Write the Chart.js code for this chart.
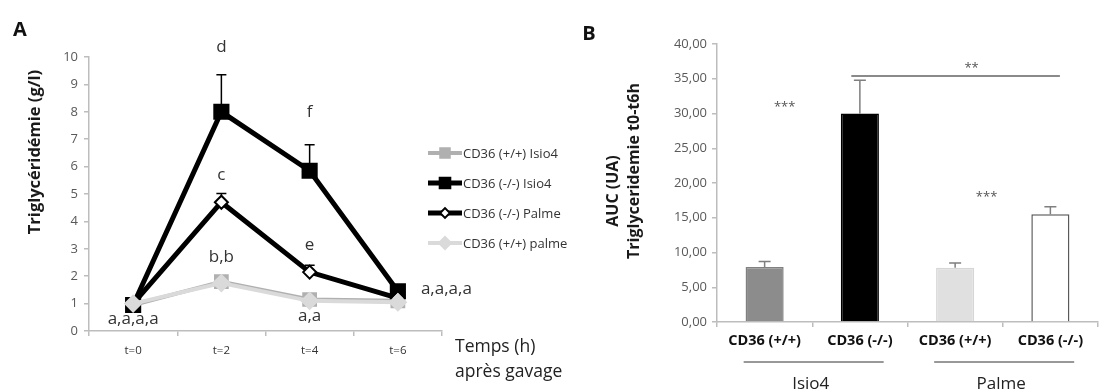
<!DOCTYPE html>
<html>
<head>
<meta charset="utf-8">
<script src="https://cdn.jsdelivr.net/npm/chart.js@4.4.1/dist/chart.umd.min.js"></script>
<style>
  body { margin: 0; background: #fff; }
  #wrap { position: relative; width: 1120px; height: 392px; overflow: hidden; font-family: "Open Sans", sans-serif; }
  canvas { position: absolute; top: 0; }
  #chartA { left: 0; }
  #chartB { left: 580px; }
  .txt { position: absolute; white-space: nowrap; color: #222; transform: translate(-50%, -50%); }
  .panel { font-weight: bold; font-size: 20px; color: #111; }
  .ytitle { font-weight: bold; transform: translate(-50%, -50%) rotate(-90deg); color: #1a1a1a; }
  .xnote { font-size: 17.5px; transform: translate(0, -50%); }
</style>
</head>
<body>
<div id="wrap">
  <canvas id="chartA" width="580" height="392"></canvas>
  <canvas id="chartB" width="540" height="392"></canvas>
  <div class="txt panel" style="left:20px;top:28px">A</div>
  <div class="txt panel" style="left:589px;top:32px">B</div>
  <div class="txt ytitle" style="left:33px;top:152px;font-size:16.5px">Triglycéridémie (g/l)</div>
  <div class="txt ytitle" style="left:612px;top:191px;font-size:16px">AUC (UA)</div>
  <div class="txt ytitle" style="left:633px;top:171px;font-size:16px">Triglyceridemie t0-t6h</div>
  <div class="txt xnote" style="left:455px;top:345px">Temps (h)</div>
  <div class="txt xnote" style="left:455px;top:370px">après gavage</div>
</div>
<script>
// panel A: triglyceridemia over time after gavage
const timeLabels = ["t=0", "t=2", "t=4", "t=6"];
const wtIsio4 = [0.95, 1.8, 1.15, 1.1];
const wtIsio4Err = [0.05, 0.12, 0.1, 0.05];
const koIsio4 = [0.95, 8.0, 5.85, 1.45];
const koIsio4Err = [0.1, 1.35, 0.95, 0.15];
const koPalme = [1.0, 4.7, 2.15, 1.2];
const koPalmeErr = [0.05, 0.32, 0.25, 0.05];
const wtPalme = [1.0, 1.75, 1.1, 1.05];
const wtPalmeErr = [0.05, 0.1, 0.08, 0.05];

// statistical letters (category index, value)
const letterText = ["d", "f", "c", "e", "b,b", "a,a", "a,a,a,a", "a,a,a,a"];
const letterAt = [1, 2, 1, 2, 1, 2, 0, 3.55];
const letterValue = [10.35, 7.98, 5.68, 3.13, 2.69, 0.54, 0.43, 1.52];

// panel B: AUC t0-t6h
const aucLabels = ["CD36 (+/+)", "CD36 (-/-)", "CD36 (+/+)", "CD36 (-/-)"];
const aucValues = [7.9, 30.0, 7.8, 15.5];
const aucErr = [0.8, 4.8, 0.7, 1.1];
const groupNames = ["Isio4", "Palme"];
const groupFrom = [0, 2];
const groupTo = [1, 3];
const starText = ["***", "***"];
const starAt = [0.21, 2.33];
const starValue = [30.9, 17.9];
const bracketFrom = 0.91, bracketTo = 3.1, bracketValue = 35.4, bracketText = "**";

const FONT = "'Open Sans', sans-serif";
const AXIS = "#bdbdbd";
const TICK = "#595959";

const errorBars = {
  id: "errorBars",
  beforeDatasetsDraw(chart) {
    const { ctx } = chart;
    const y = chart.scales.y;
    chart.data.datasets.forEach((ds, i) => {
      if (!ds.errors) return;
      const meta = chart.getDatasetMeta(i);
      const cap = ds.errorCap || 5;
      ctx.save();
      ctx.strokeStyle = ds.errorColor || "#000";
      ctx.lineWidth = ds.errorWidth || 1.5;
      meta.data.forEach((el, j) => {
        const e = ds.errors[j];
        if (!e) return;
        const top = y.getPixelForValue(ds.data[j] + e);
        ctx.beginPath();
        ctx.moveTo(el.x, el.y);
        ctx.lineTo(el.x, top);
        ctx.moveTo(el.x - cap, top);
        ctx.lineTo(el.x + cap, top);
        ctx.stroke();
      });
      ctx.restore();
    });
  }
};

const lettersA = {
  id: "lettersA",
  afterDraw(chart) {
    const { ctx, scales: { x, y } } = chart;
    ctx.save();
    ctx.font = "17px " + FONT;
    ctx.fillStyle = "#333";
    ctx.textAlign = "center";
    ctx.textBaseline = "middle";
    letterText.forEach((t, i) => {
      ctx.fillText(t, x.getPixelForValue(letterAt[i]), y.getPixelForValue(letterValue[i]));
    });
    ctx.restore();
  }
};

const sideLegend = {
  id: "sideLegend",
  afterDraw(chart) {
    const { ctx } = chart;
    chart.data.datasets.forEach((ds, i) => {
      const ly = 153 + i * 30;
      ctx.save();
      ctx.strokeStyle = ds.borderColor;
      ctx.lineWidth = ds.borderWidth;
      ctx.beginPath();
      ctx.moveTo(428, ly);
      ctx.lineTo(462, ly);
      ctx.stroke();
      ctx.fillStyle = ds.pointBackgroundColor;
      ctx.strokeStyle = ds.pointBorderColor;
      ctx.lineWidth = ds.pointBorderWidth;
      Chart.helpers.drawPoint(ctx, { pointStyle: ds.pointStyle, radius: ds.pointRadius * 0.75, borderWidth: ds.pointBorderWidth, rotation: 0 }, 445, ly);
      ctx.font = "13px " + FONT;
      ctx.fillStyle = "#333";
      ctx.textBaseline = "middle";
      ctx.fillText(ds.label, 463, ly + 1);
      ctx.restore();
    });
  }
};

const notesB = {
  id: "notesB",
  afterDraw(chart) {
    const { ctx, chartArea, scales: { x, y } } = chart;
    ctx.save();
    ctx.fillStyle = "#555";
    ctx.font = "13px " + FONT;
    ctx.textAlign = "center";
    ctx.textBaseline = "middle";
    starText.forEach((t, i) => ctx.fillText(t, x.getPixelForValue(starAt[i]), y.getPixelForValue(starValue[i])));
    // significance bracket
    const by = y.getPixelForValue(bracketValue);
    ctx.strokeStyle = "#8a8a8a";
    ctx.lineWidth = 2;
    ctx.beginPath();
    ctx.moveTo(x.getPixelForValue(bracketFrom), by);
    ctx.lineTo(x.getPixelForValue(bracketTo), by);
    ctx.stroke();
    ctx.fillText(bracketText, (x.getPixelForValue(bracketFrom) + x.getPixelForValue(bracketTo)) / 2 + 16, by - 8);
    // group underlines and names
    const gy = chartArea.bottom + 40;
    ctx.strokeStyle = "#333";
    ctx.lineWidth = 1;
    ctx.fillStyle = "#222";
    ctx.font = "17px " + FONT;
    groupNames.forEach((g, i) => {
      const a = x.getPixelForValue(groupFrom[i] - 0.22);
      const b = x.getPixelForValue(groupTo[i] + 0.25);
      ctx.beginPath();
      ctx.moveTo(a, gy);
      ctx.lineTo(b, gy);
      ctx.stroke();
      ctx.fillText(g, (a + b) / 2 - 3, gy + 22);
    });
    ctx.restore();
  }
};

function lineSet(label, data, errors, color, point, fill, radius, width, errColor) {
  return {
    label, data, errors,
    borderColor: color,
    borderWidth: width,
    pointStyle: point,
    pointRadius: radius,
    pointBackgroundColor: fill,
    pointBorderColor: color,
    pointBorderWidth: 2,
    errorColor: errColor,
    errorCap: 5,
    tension: 0,
  };
}

const datasetsA = [
  Object.assign(lineSet("CD36 (+/+) Isio4", wtIsio4, wtIsio4Err, "#b0b0b0", "rect", "#b0b0b0", 9, 4, "#b0b0b0"), { order: 4 }),
  Object.assign(lineSet("CD36 (-/-) Isio4", koIsio4, koIsio4Err, "#000", "rect", "#000", 10, 5, "#000"), { order: 3 }),
  Object.assign(lineSet("CD36 (-/-) Palme", koPalme, koPalmeErr, "#000", "rectRot", "#fff", 6.5, 5, "#000"), { order: 2 }),
  Object.assign(lineSet("CD36 (+/+) palme", wtPalme, wtPalmeErr, "#dadada", "rectRot", "#dadada", 8, 4, "#cfcfcf"), { order: 1 }),
];

new Chart(document.getElementById("chartA"), {
  type: "line",
  data: { labels: timeLabels, datasets: datasetsA },
  options: {
    responsive: false,
    animation: false,
    layout: { padding: { top: 57, right: 138, left: 0, bottom: 0 } },
    plugins: { legend: { display: false }, tooltip: { enabled: false } },
    scales: {
      x: {
        offset: true,
        grid: { offset: true, drawOnChartArea: false, tickLength: 5, color: AXIS, lineWidth: 1.5 },
        border: { color: AXIS, width: 1.5 },
        ticks: { color: "#333", font: { family: FONT, size: 11.5 }, padding: 8 },
        afterFit: (s) => { s.height = 61; },
      },
      y: {
        min: 0, max: 10,
        grid: { drawOnChartArea: false, tickLength: 5, color: AXIS, lineWidth: 1.5 },
        border: { color: AXIS, width: 1.5 },
        ticks: { stepSize: 1, color: TICK, font: { family: FONT, size: 13 }, padding: 6 },
        afterFit: (s) => { s.width = 89; },
      },
    },
  },
  plugins: [errorBars, lettersA, sideLegend],
});

new Chart(document.getElementById("chartB"), {
  type: "bar",
  data: {
    labels: aucLabels,
    datasets: [{
      data: aucValues,
      errors: aucErr,
      errorColor: "#7f7f7f",
      errorCap: 6,
      errorWidth: 1.5,
      backgroundColor: ["#8c8c8c", "#000000", "#e0e0e0", "#ffffff"],
      borderColor: ["#808080", "#000000", "#d6d6d6", "#595959"],
      borderWidth: 1.5,
      barPercentage: 0.4,
      categoryPercentage: 1,
    }],
  },
  options: {
    responsive: false,
    animation: false,
    layout: { padding: { top: 44, right: 22, left: 0, bottom: 0 } },
    plugins: { legend: { display: false }, tooltip: { enabled: false } },
    scales: {
      x: {
        grid: { offset: true, drawOnChartArea: false, tickLength: 5, color: AXIS, lineWidth: 1.5 },
        border: { color: AXIS, width: 1.5 },
        ticks: { color: "#111", font: { family: FONT, size: 14.5, weight: "bold" }, padding: 5 },
        afterFit: (s) => { s.height = 70; },
      },
      y: {
        min: 0, max: 40,
        grid: { drawOnChartArea: false, tickLength: 5, color: AXIS, lineWidth: 1.5 },
        border: { color: AXIS, width: 1.5 },
        ticks: {
          stepSize: 5, color: TICK, font: { family: FONT, size: 13 }, padding: 5,
          callback: (v) => v.toFixed(2).replace(".", ","),
        },
        afterFit: (s) => { s.width = 137; },
      },
    },
  },
  plugins: [errorBars, notesB],
});
</script>
</body>
</html>
